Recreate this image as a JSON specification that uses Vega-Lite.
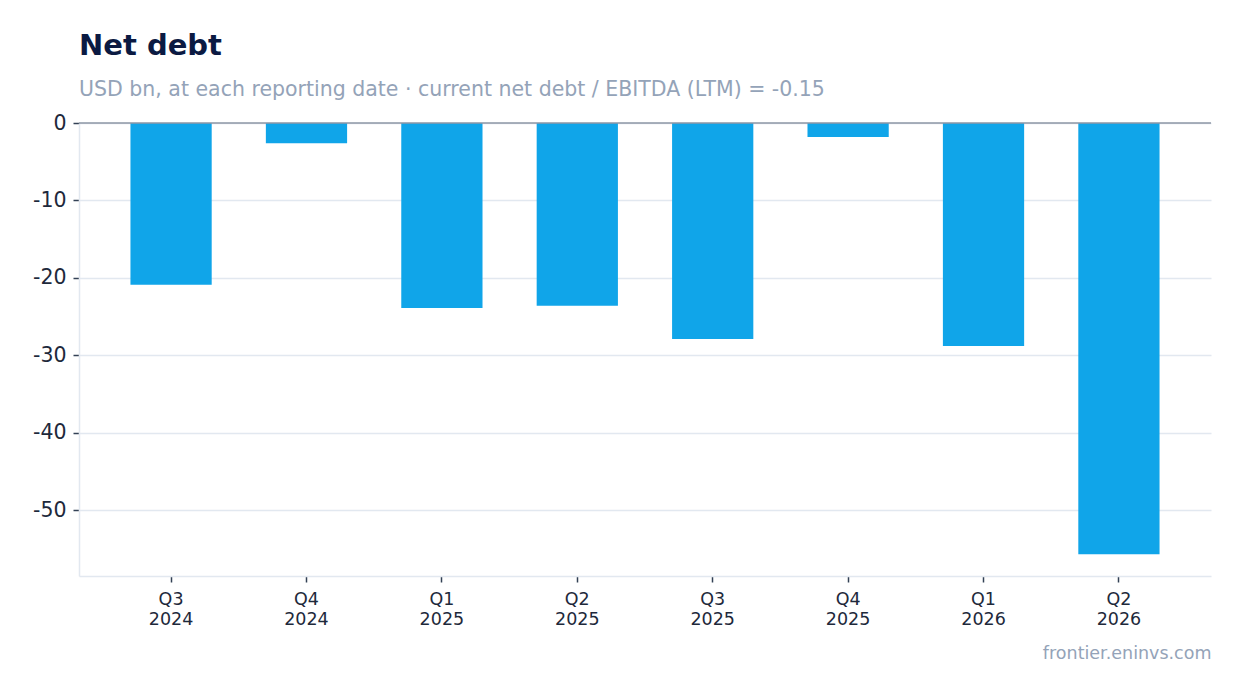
{
  "$schema": "https://vega.github.io/schema/vega-lite/v6.json",
  "description": "Net debt by reporting date",
  "width": 1132,
  "height": 453,
  "autosize": {"type": "none"},
  "padding": {"left": 79, "top": 123, "right": 30, "bottom": 117},
  "background": "white",
  "config": {
    "font": "DejaVu Sans",
    "view": {"stroke": null}
  },
  "title": {
    "text": "Net debt",
    "subtitle": "USD bn, at each reporting date · current net debt / EBITDA (LTM) = -0.15",
    "anchor": "start",
    "frame": "group",
    "font": "DejaVu Sans",
    "fontSize": 29,
    "fontWeight": "bold",
    "color": "#0b1a42",
    "subtitleFont": "DejaVu Sans",
    "subtitleFontSize": 20.5,
    "subtitleColor": "#94a3b8",
    "subtitlePadding": 19,
    "offset": 13
  },
  "layer": [
    {
      "data": {
        "values": [
          {"period": "Q3 2024", "net_debt": -20.9},
          {"period": "Q4 2024", "net_debt": -2.6},
          {"period": "Q1 2025", "net_debt": -23.9},
          {"period": "Q2 2025", "net_debt": -23.6},
          {"period": "Q3 2025", "net_debt": -27.9},
          {"period": "Q4 2025", "net_debt": -1.8},
          {"period": "Q1 2026", "net_debt": -28.8},
          {"period": "Q2 2026", "net_debt": -55.7}
        ]
      },
      "mark": {"type": "bar", "color": "#10a5e9"},
      "encoding": {
        "x": {
          "field": "period",
          "type": "nominal",
          "sort": null,
          "scale": {"paddingInner": 0.4, "paddingOuter": 0.38},
          "axis": {
            "title": "frontier.eninvs.com",
            "titleAnchor": "end",
            "titleAlign": "right",
            "titleColor": "#94a3b8",
            "titleFontSize": 17.5,
            "titleFontWeight": "normal",
            "titlePadding": 17,
            "labelAngle": 0,
            "labelExpr": "split(datum.label, ' ')",
            "labelFontSize": 17.5,
            "labelColor": "#1e293b",
            "labelLineHeight": 20,
            "labelPadding": 8,
            "tickColor": "#334155",
            "tickSize": 6,
            "tickWidth": 1.5,
            "domainColor": "#e2e8f0",
            "domainWidth": 1.5,
            "grid": false
          }
        },
        "y": {
          "field": "net_debt",
          "type": "quantitative",
          "scale": {"domain": [-58.5, 0], "nice": false, "zero": true},
          "axis": {
            "title": null,
            "values": [0, -10, -20, -30, -40, -50],
            "labelExpr": "replace(datum.label, '−', '-')",
            "labelFontSize": 20.5,
            "labelColor": "#1e293b",
            "labelPadding": 7,
            "tickColor": "#334155",
            "tickSize": 6,
            "tickWidth": 1.5,
            "domainColor": "#e2e8f0",
            "domainWidth": 1.5,
            "gridColor": "#e2e8f0",
            "gridWidth": 1.5
          }
        }
      }
    },
    {
      "data": {"values": [{"zero": 0}]},
      "mark": {"type": "rule", "color": "#8e97a6", "strokeWidth": 1.5},
      "encoding": {
        "y": {"field": "zero", "type": "quantitative"}
      }
    }
  ]
}
